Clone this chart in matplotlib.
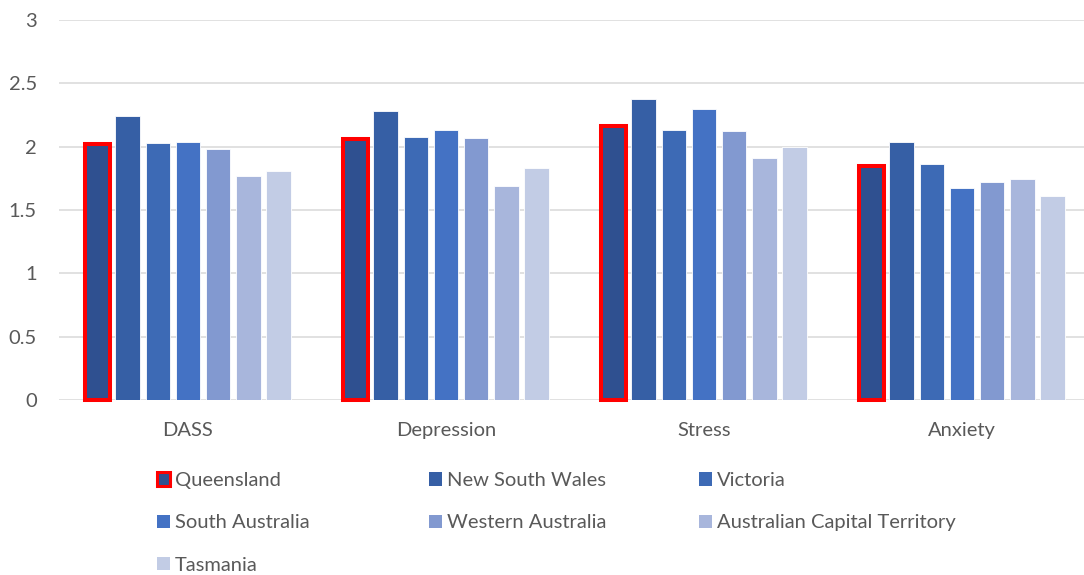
import matplotlib.pyplot as plt
import numpy as np
from matplotlib.patches import Patch

plt.rcParams['font.family'] = ['Lato', 'DejaVu Sans']

categories = ['DASS', 'Depression', 'Stress', 'Anxiety']
states = ['Queensland', 'New South Wales', 'Victoria', 'South Australia',
          'Western Australia', 'Australian Capital Territory', 'Tasmania']

# mean scores per state, one list per category order above
queensland = [2.02, 2.06, 2.16, 1.85]
new_south_wales = [2.245, 2.28, 2.38, 2.04]
victoria = [2.03, 2.08, 2.13, 1.86]
south_australia = [2.04, 2.13, 2.30, 1.67]
western_australia = [1.98, 2.07, 2.12, 1.72]
act = [1.77, 1.69, 1.91, 1.745]
tasmania = [1.81, 1.83, 2.00, 1.61]

series = [queensland, new_south_wales, victoria, south_australia,
          western_australia, act, tasmania]
colors = ['#2f5090', '#365fa5', '#3d6ab5', '#4472c4', '#8299d0', '#a8b6dc', '#c2cce5']

fig = plt.figure(figsize=(10.84, 5.75), dpi=100)
ax = fig.add_axes([59 / 1084, 175 / 575, 1 - 59 / 1084, 380 / 575])

x = np.arange(len(categories))
pitch = 30.2 / 258
width = 24.5 / 258

for i, (vals, c) in enumerate(zip(series, colors)):
    pos = x + (i - 3) * pitch
    if i == 0:
        ax.bar(pos, vals, width, color=c, edgecolor='#ff0000', linewidth=2.9,
               clip_on=False, zorder=3)
    else:
        ax.bar(pos, vals, width, color=c, edgecolor='white', linewidth=0.6, zorder=2)

ax.set_xlim(-0.5, -0.5 + 1025 / 258)
ax.set_ylim(0, 3)
ax.set_yticks(np.arange(0, 3.01, 0.5))
ax.set_yticklabels(['0', '0.5', '1', '1.5', '2', '2.5', '3'])
ax.set_xticks(x)
ax.set_xticklabels(categories)
ax.grid(axis='y', color='#d9d9d9', linewidth=1.1)
ax.set_axisbelow(True)
for s in ax.spines.values():
    s.set_visible(False)
ax.tick_params(axis='both', length=0, labelsize=14.5, labelcolor='#595959')
ax.tick_params(axis='y', pad=16)
ax.tick_params(axis='x', pad=15.5)

# legend laid out row by row in three columns
handles = []
for i, (name, c) in enumerate(zip(states, colors)):
    if i == 0:
        handles.append(Patch(facecolor=c, edgecolor='#ff0000', linewidth=2.2, label=name))
    else:
        handles.append(Patch(facecolor=c, edgecolor='none', label=name))

col_x = [157, 429, 699]
for col in range(3):
    hs = handles[col::3]
    leg = fig.legend(handles=hs, loc='upper left',
                     bbox_to_anchor=(col_x[col] / 1084, 1 - 472 / 575),
                     frameon=False, fontsize=14.5, labelcolor='#595959',
                     handlelength=0.65, handleheight=0.65, handletextpad=0.25,
                     borderpad=0, borderaxespad=0, labelspacing=1.26)

fig.savefig('out.png', dpi=100)
